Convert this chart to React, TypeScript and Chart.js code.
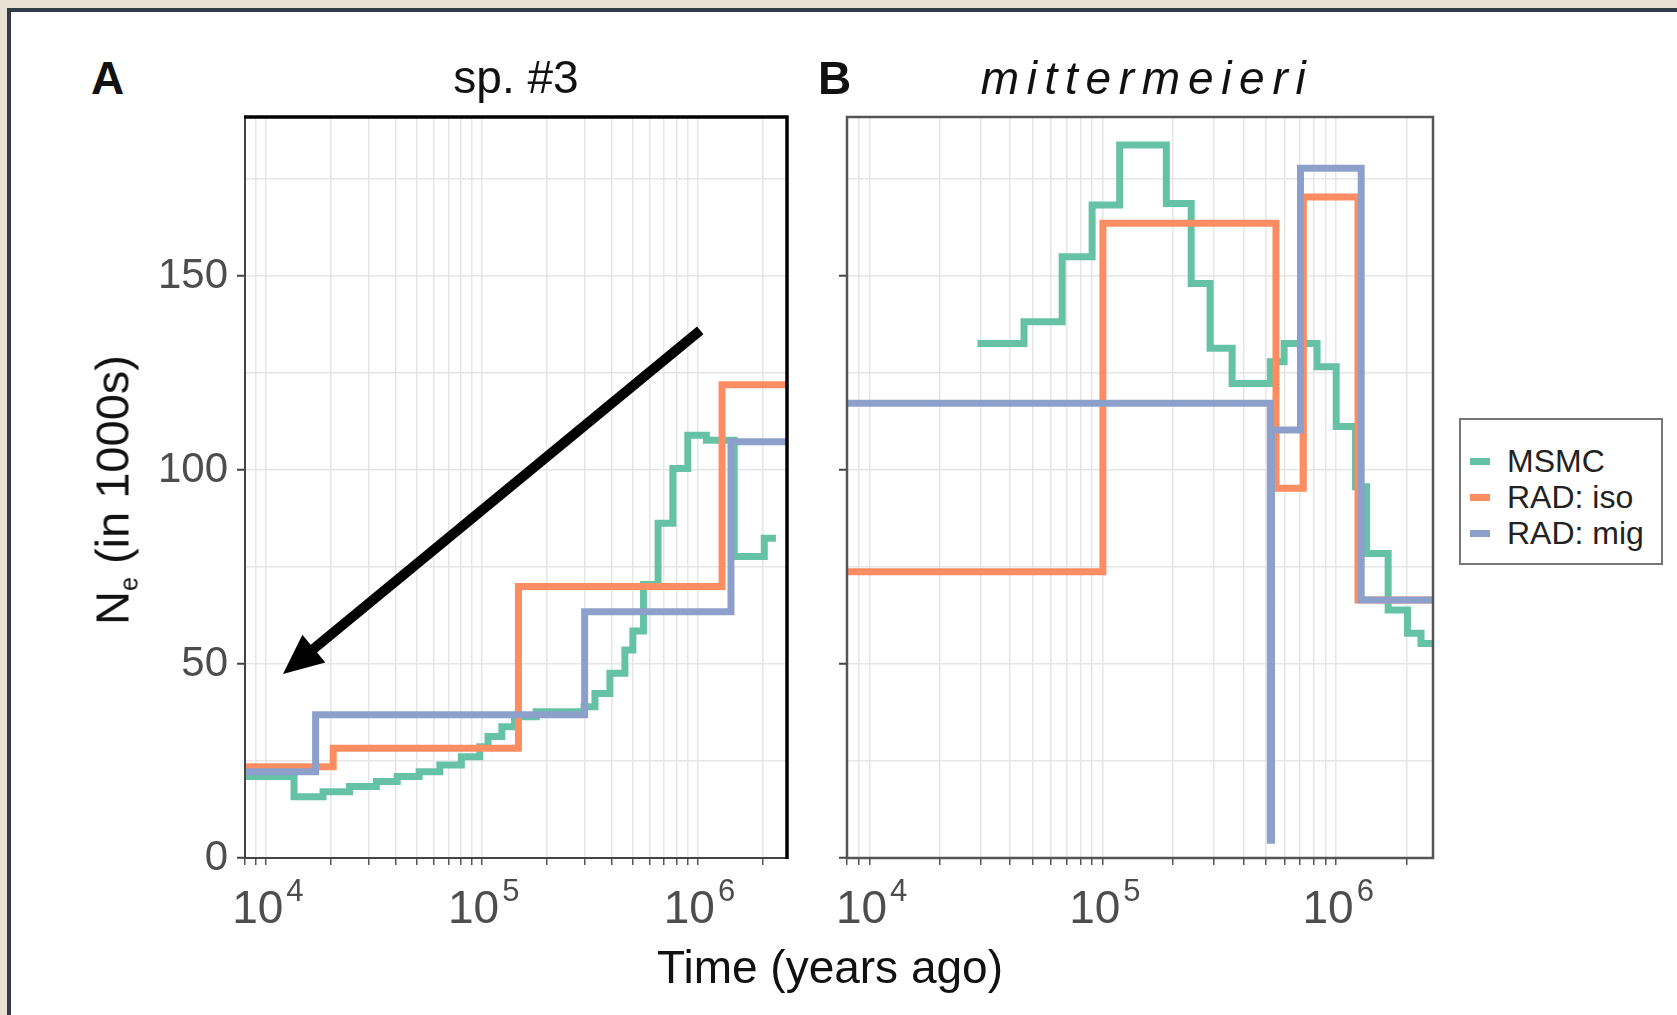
import React, { useEffect, useRef } from 'react';
import { Chart, registerables } from 'chart.js';

Chart.register(...registerables);

const FONT = "'Liberation Sans', Arial, Helvetica, sans-serif";

// ---- axes ----
const xMin = 8000;
const xMax = 2.6e6;
const xMajorTicks = [1e4, 1e5, 1e6];
const xMinorMultipliers = [1, 2, 3, 4, 5, 6, 7, 8, 9];
const xDecades = [3, 4, 5, 6];
const yMin = 0;
const yMax = 191;
const yGridStep = 25;
const yLabelStep = 50;

// ---- series names / colours ----
const seriesNames = ['MSMC', 'RAD: iso', 'RAD: mig'];
const seriesColors = ['#66c2a5', '#fc8d62', '#8da0cb'];

// ---- Panel A: sp. #3 ----
const msmcA_time = [7000, 13500, 18400, 24400, 32500, 40600, 51300, 64000, 80500, 98000, 107000, 124000, 142000, 179000, 298000, 335000, 393000, 461000, 502000, 562000, 657000, 769000, 902000, 1100000, 1480000, 2040000, 2310000];
const msmcA_ne = [21.0, 15.8, 17.1, 18.4, 19.7, 21.0, 22.2, 24.0, 26.1, 28.7, 31.3, 33.8, 36.4, 37.7, 39.0, 42.4, 47.6, 53.6, 58.5, 70.5, 86.3, 100.4, 109.0, 107.7, 77.7, 82.4, 82.4];
const isoA_time = [7000, 20500, 148000, 1300000, 3000000];
const isoA_ne = [23.5, 28.3, 70.0, 122.0, 122.0];
const migA_time = [7000, 17000, 300000, 1430000, 3000000];
const migA_ne = [22.2, 36.9, 63.5, 107.3, 107.3];

// ---- Panel B: mittermeieri ----
const msmcB_time = [29000, 45900, 66900, 89900, 118000, 187000, 239000, 288000, 358000, 522000, 598000, 828000, 1000000, 1210000, 1350000, 1670000, 2020000, 2310000, 3000000];
const msmcB_ne = [132.6, 138.2, 155.0, 168.3, 183.8, 168.7, 148.1, 131.4, 122.3, 127.9, 132.6, 126.6, 111.2, 95.7, 78.5, 63.9, 57.9, 55.3, 55.3];
const isoB_time = [7000, 100000, 552000, 723000, 1240000, 3000000];
const isoB_ne = [73.8, 163.6, 95.3, 170.4, 66.5, 66.5];
const migB_time = [7000, 522000, 528000, 703000, 1280000, 3000000];
const migB_ne = [117.2, 4.6, 110.3, 177.8, 66.5, 66.5];

// ---- annotation arrow (panel A, data coordinates) ----
const arrowFrom = [1.03e6, 136];
const arrowTo = [1.2e4, 47.4];

const xGridValues: number[] = [];
xDecades.forEach((e) => {
  xMinorMultipliers.forEach((m) => {
    const v = m * Math.pow(10, e);
    if (v >= xMin && v <= xMax) xGridValues.push(v);
  });
});

type Series = { time: number[]; ne: number[]; idx: number };

function buildDatasets(series: Series[]) {
  return series.map((s) => ({
    label: seriesNames[s.idx],
    data: s.time.map((t, j) => ({ x: t, y: s.ne[j] })),
    borderColor: seriesColors[s.idx],
    backgroundColor: seriesColors[s.idx],
    borderWidth: 7,
    stepped: 'before' as const,
    pointRadius: 0,
    fill: false,
    clip: 0,
    order: 3 - s.idx,
    borderJoinStyle: 'miter' as const,
    borderCapStyle: 'butt' as const,
  }));
}

const xLabelPlugin = {
  id: 'xLabels',
  afterDraw(chart: any) {
    const { ctx, chartArea } = chart;
    const xs = chart.scales.x;
    ctx.save();
    ctx.fillStyle = '#4d4d4d';
    ctx.textAlign = 'left';
    ctx.textBaseline = 'alphabetic';
    xMajorTicks.forEach((v) => {
      const px = xs.getPixelForValue(v);
      const exp = String(Math.round(Math.log10(v)));
      ctx.font = `46px ${FONT}`;
      const wB = ctx.measureText('10').width;
      ctx.font = `31px ${FONT}`;
      const wE = ctx.measureText(exp).width;
      const gap = 3;
      const left = px - (wB + gap + wE) / 2 + 2;
      ctx.font = `46px ${FONT}`;
      ctx.fillText('10', left, chartArea.bottom + 65);
      ctx.font = `31px ${FONT}`;
      ctx.fillText(exp, left + wB + gap, chartArea.bottom + 43);
    });
    ctx.restore();
  },
};

const frameAPlugin = {
  id: 'frameA',
  afterDraw(chart: any) {
    const { ctx, chartArea: a } = chart;
    ctx.save();
    ctx.strokeStyle = '#444';
    ctx.lineWidth = 2;
    ctx.strokeRect(a.left, a.top, a.right - a.left, a.bottom - a.top);
    ctx.strokeStyle = '#000';
    ctx.lineWidth = 3.5;
    ctx.beginPath();
    ctx.moveTo(a.left - 1, a.top);
    ctx.lineTo(a.right, a.top);
    ctx.lineTo(a.right, a.bottom + 1);
    ctx.stroke();
    ctx.restore();
  },
};

const frameBPlugin = {
  id: 'frameB',
  afterDraw(chart: any) {
    const { ctx, chartArea: a } = chart;
    ctx.save();
    ctx.strokeStyle = '#555';
    ctx.lineWidth = 2.5;
    ctx.strokeRect(a.left, a.top, a.right - a.left, a.bottom - a.top);
    ctx.restore();
  },
};

const arrowPlugin = {
  id: 'arrow',
  afterDatasetsDraw(chart: any) {
    const { ctx } = chart;
    const xs = chart.scales.x;
    const ys = chart.scales.y;
    const x1 = xs.getPixelForValue(arrowFrom[0]);
    const y1 = ys.getPixelForValue(arrowFrom[1]);
    const x2 = xs.getPixelForValue(arrowTo[0]);
    const y2 = ys.getPixelForValue(arrowTo[1]);
    const ang = Math.atan2(y2 - y1, x2 - x1);
    const headLen = 40;
    const headHalf = 18;
    const bx = x2 - headLen * Math.cos(ang);
    const by = y2 - headLen * Math.sin(ang);
    ctx.save();
    ctx.strokeStyle = '#000';
    ctx.fillStyle = '#000';
    ctx.lineWidth = 10;
    ctx.lineCap = 'butt';
    ctx.beginPath();
    ctx.moveTo(x1, y1);
    ctx.lineTo(bx + 2 * Math.cos(ang), by + 2 * Math.sin(ang));
    ctx.stroke();
    ctx.beginPath();
    ctx.moveTo(x2, y2);
    ctx.lineTo(bx + headHalf * Math.sin(ang), by - headHalf * Math.cos(ang));
    ctx.lineTo(bx - headHalf * Math.sin(ang), by + headHalf * Math.cos(ang));
    ctx.closePath();
    ctx.fill();
    ctx.restore();
  },
};

function makeConfig(series: Series[], showYLabels: boolean, yAxisWidth: number, padRight: number, plugins: any[]): any {
  return {
    type: 'line',
    data: { datasets: buildDatasets(series) },
    options: {
      animation: false,
      responsive: false,
      devicePixelRatio: 1,
      events: [],
      layout: { padding: { top: 40, right: padRight, left: 0, bottom: 0 } },
      plugins: { legend: { display: false }, tooltip: { enabled: false }, title: { display: false } },
      scales: {
        x: {
          type: 'logarithmic',
          position: 'bottom',
          min: xMin,
          max: xMax,
          afterBuildTicks: (scale: any) => {
            scale.ticks = xGridValues.map((v) => ({ value: v }));
          },
          afterFit: (scale: any) => {
            scale.height = 102;
          },
          ticks: { display: false, autoSkip: false },
          grid: { color: '#e6e6e6', lineWidth: 1.5, drawTicks: true, tickLength: 7, tickColor: '#555', tickWidth: 1.5 },
          border: { display: false },
        },
        y: {
          type: 'linear',
          position: 'left',
          min: yMin,
          max: yMax,
          afterFit: (scale: any) => {
            scale.width = yAxisWidth;
          },
          ticks: {
            display: showYLabels,
            stepSize: yGridStep,
            includeBounds: false,
            autoSkip: false,
            padding: 9,
            color: '#4d4d4d',
            font: { size: 42, family: FONT },
            callback: (v: number) => (v % yLabelStep === 0 ? String(v) : ''),
          },
          grid: {
            color: '#e6e6e6',
            lineWidth: 1.5,
            drawTicks: true,
            tickLength: 8,
            tickWidth: 2,
            tickColor: (c: any) => (c.tick && c.tick.value % yLabelStep === 0 ? '#444' : 'rgba(0,0,0,0)'),
          },
          border: { display: false },
        },
      },
    },
    plugins,
  };
}

export default function App() {
  const refA = useRef<HTMLCanvasElement>(null);
  const refB = useRef<HTMLCanvasElement>(null);

  useEffect(() => {
    document.body.style.margin = '0';
    const chartA = new Chart(
      refA.current as HTMLCanvasElement,
      makeConfig(
        [
          { time: msmcA_time, ne: msmcA_ne, idx: 0 },
          { time: isoA_time, ne: isoA_ne, idx: 1 },
          { time: migA_time, ne: migA_ne, idx: 2 },
        ],
        true,
        115,
        23,
        [arrowPlugin, frameAPlugin, xLabelPlugin]
      )
    );
    const chartB = new Chart(
      refB.current as HTMLCanvasElement,
      makeConfig(
        [
          { time: msmcB_time, ne: msmcB_ne, idx: 0 },
          { time: isoB_time, ne: isoB_ne, idx: 1 },
          { time: migB_time, ne: migB_ne, idx: 2 },
        ],
        false,
        47,
        27,
        [frameBPlugin, xLabelPlugin]
      )
    );
    return () => {
      chartA.destroy();
      chartB.destroy();
    };
  }, []);

  const textBase: React.CSSProperties = { position: 'absolute', whiteSpace: 'nowrap', lineHeight: 1, color: '#111' };

  return (
    <div style={{ position: 'absolute', left: 0, top: 0, width: 1677, height: 1015, overflow: 'hidden', background: '#e8e0d2', fontFamily: FONT }}>
      <div style={{ position: 'absolute', left: 7, top: 8, width: 1700, height: 1100, background: '#fff', borderLeft: '4px solid #323b4a', borderTop: '4px solid #323b4a', boxSizing: 'border-box' }} />
      <canvas ref={refA} width={680} height={883} style={{ position: 'absolute', left: 130, top: 77, width: 680, height: 883 }} />
      <canvas ref={refB} width={660} height={883} style={{ position: 'absolute', left: 800, top: 77, width: 660, height: 883 }} />

      <div style={{ ...textBase, left: 91, top: 55, fontSize: 46, fontWeight: 'bold' }}>A</div>
      <div style={{ ...textBase, left: 818, top: 55, fontSize: 46, fontWeight: 'bold' }}>B</div>
      <div style={{ ...textBase, left: 516, top: 54, fontSize: 46, transform: 'translateX(-50%)' }}>sp. #3</div>
      <div style={{ ...textBase, left: 1147, top: 55, fontSize: 46, fontStyle: 'italic', letterSpacing: '7.7px', transform: 'translateX(-50%)' }}>mittermeieri</div>
      <div style={{ ...textBase, left: 830, top: 944, fontSize: 46, transform: 'translateX(-50%)' }}>Time (years ago)</div>
      <div style={{ ...textBase, left: 112, top: 490, fontSize: 47, transform: 'translate(-50%, -50%) rotate(-90deg)' }}>
        N<span style={{ fontSize: 25, position: 'relative', top: 9 }}>e</span> (in 1000s)
      </div>

      <div style={{ position: 'absolute', left: 1459, top: 418, width: 204, height: 147, border: '2px solid #777', boxSizing: 'border-box', background: '#fff' }} />
      {seriesNames.map((name, i) => (
        <React.Fragment key={name}>
          <div style={{ position: 'absolute', left: 1470, top: 458 + i * 36, width: 20, height: 7, background: seriesColors[i] }} />
          <div style={{ ...textBase, left: 1507, top: 461 + i * 36, fontSize: 32, color: '#222', transform: 'translateY(-50%)' }}>{name}</div>
        </React.Fragment>
      ))}
    </div>
  );
}
